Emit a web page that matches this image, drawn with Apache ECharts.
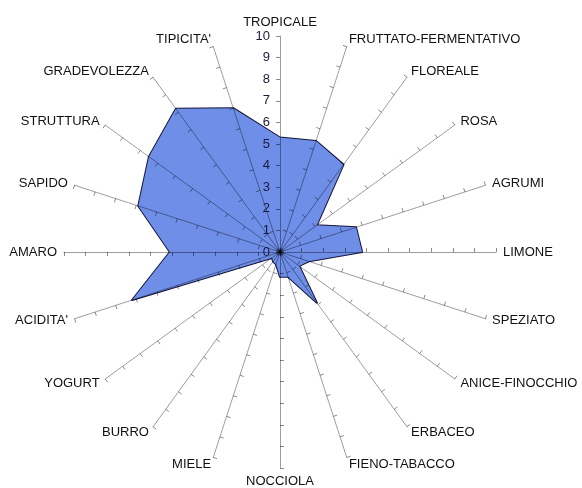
<!DOCTYPE html>
<html>
<head>
<meta charset="utf-8">
<script src="https://cdn.jsdelivr.net/npm/echarts@6/dist/echarts.min.js"></script>
<style>
html,body{margin:0;padding:0;background:#fff;}
#chart{width:582px;height:488px;}
</style>
</head>
<body>
<div id="chart"></div>
<script>
// Attributes in clockwise order starting from the top
var categories = ["TROPICALE","FRUTTATO-FERMENTATIVO","FLOREALE","ROSA","AGRUMI","LIMONE",
  "SPEZIATO","ANICE-FINOCCHIO","ERBACEO","FIENO-TABACCO","NOCCIOLA","MIELE","BURRO",
  "YOGURT","ACIDITA'","AMARO","SAPIDO","STRUTTURA","GRADEVOLEZZA","TIPICITA'"];
var values = [5.3,5.4,5.0,2.1,3.7,3.8,1.4,1.1,2.9,1.2,1.15,0.6,0.55,0.45,7.2,5.1,6.9,7.5,8.2,7.0];
var scaleMin = 0;
var scaleMax = 10;

// ECharts places radar indicators counter-clockwise: keep first, reverse the rest
var order = [0];
for (var i = categories.length - 1; i >= 1; i--) order.push(i);

var indicators = order.map(function (k, j) {
  var ind = { name: categories[k], min: scaleMin, max: scaleMax };
  if (j !== 0) ind.axisLabel = { show: false };
  return ind;
});
var seriesValues = order.map(function (k) { return values[k]; });

var chart = echarts.init(document.getElementById('chart'));
chart.setOption({
  animation: false,
  backgroundColor: '#ffffff',
  radar: {
    center: [280, 252],
    radius: 216,
    startAngle: 90,
    splitNumber: 10,
    shape: 'polygon',
    z: 5,
    indicator: indicators,
    axisName: {
      color: '#111',
      fontFamily: 'Liberation Sans, Arial, sans-serif',
      fontSize: 13
    },
    nameGap: 7,
    axisLine: { show: true, lineStyle: { color: 'rgba(0,0,0,0.38)', width: 1 } },
    axisTick: { show: true, length: 4, lineStyle: { color: 'rgba(0,0,0,0.45)', width: 1 } },
    axisLabel: {
      show: true,
      color: '#1a1a3c',
      fontFamily: 'Liberation Sans, Arial, sans-serif',
      fontSize: 13,
      margin: 10
    },
    splitLine: { show: false },
    splitArea: { show: false }
  },
  series: [{
    type: 'radar',
    z: 2,
    symbol: 'none',
    lineStyle: { color: '#15163a', width: 2 },
    areaStyle: { color: '#6e8ee8', opacity: 1 },
    data: [{ value: seriesValues }]
  }]
});
</script>
</body>
</html>
